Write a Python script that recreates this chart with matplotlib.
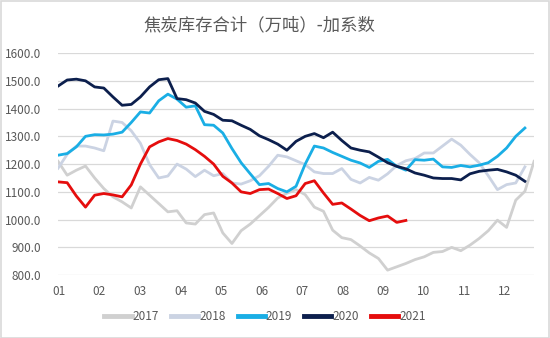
import numpy as np
import matplotlib
matplotlib.use('Agg')
import matplotlib.pyplot as plt
from matplotlib.patches import Rectangle

plt.rcParams['font.family'] = ['Noto Sans CJK SC', 'DejaVu Sans']

# 周度数据（第1周起）
y2017 = [1210, 1160, 1178, 1193, 1150, 1112, 1082, 1064, 1042, 1118, 1088, 1058, 1028, 1032,
         988, 984, 1018, 1024, 952, 914, 960, 984, 1014, 1044, 1078, 1095, 1108, 1090, 1045,
         1030, 962, 935, 928, 905, 880, 860, 818, 830, 842, 856, 866, 882, 885, 900, 888, 908,
         932, 960, 998, 972, 1070, 1102, 1210]
y2018 = [1185, 1235, 1265, 1265, 1258, 1248, 1355, 1350, 1320, 1275, 1198, 1150, 1157, 1200,
         1182, 1155, 1178, 1158, 1166, 1132, 1128, 1140, 1158, 1192, 1232, 1226, 1212, 1198,
         1172, 1166, 1166, 1184, 1145, 1132, 1152, 1142, 1165, 1195, 1212, 1220, 1240, 1240,
         1265, 1290, 1268, 1235, 1205, 1158, 1108, 1126, 1132, 1190]
y2019 = [1232, 1238, 1262, 1300, 1306, 1305, 1308, 1315, 1350, 1388, 1384, 1428, 1452, 1434,
         1405, 1410, 1342, 1340, 1312, 1256, 1205, 1165, 1126, 1130, 1112, 1100, 1120, 1200,
         1265, 1258, 1242, 1228, 1214, 1204, 1188, 1210, 1217, 1192, 1178, 1216, 1214, 1218,
         1190, 1188, 1195, 1190, 1196, 1205, 1228, 1258, 1300, 1330]
y2020 = [1481, 1503, 1506, 1500, 1478, 1474, 1442, 1412, 1415, 1442, 1478, 1504, 1508, 1436,
         1432, 1420, 1390, 1379, 1358, 1356, 1340, 1325, 1302, 1288, 1272, 1250, 1282, 1300,
         1310, 1295, 1315, 1285, 1258, 1250, 1244, 1225, 1205, 1192, 1183, 1168, 1160, 1150,
         1148, 1148, 1143, 1165, 1174, 1178, 1181, 1172, 1160, 1138]
y2021 = [1136, 1133, 1085, 1045, 1088, 1094, 1089, 1082, 1125, 1200, 1262, 1280, 1292, 1285,
         1272, 1252, 1228, 1200, 1156, 1132, 1100, 1094, 1108, 1110, 1094, 1076, 1086, 1130,
         1140, 1096, 1055, 1060, 1038, 1015, 996, 1006, 1013, 990, 997]

months = ['01', '02', '03', '04', '05', '06', '07', '08', '09', '10', '11', '12']

series = [('2017', y2017, '#d0d0d0'),
          ('2018', y2018, '#cbd3e3'),
          ('2019', y2019, '#1aaee5'),
          ('2020', y2020, '#0c1f4d'),
          ('2021', y2021, '#e50d0d')]

fig = plt.figure(figsize=(5.5, 3.38), dpi=100)
ax = fig.add_axes([0.1055, 0.186, 0.8655, 0.657])

for name, vals, color in series:
    ax.plot(np.arange(len(vals)), vals, color=color, lw=2.0, label=name,
            solid_joinstyle='round')

ax.set_xlim(0, 52)
ax.set_ylim(800, 1600)
ax.set_yticks(np.arange(800, 1601, 100))
ax.set_yticklabels([f'{v:.1f}' for v in np.arange(800, 1601, 100)])
ax.set_xticks(0.1 + np.arange(12) * 4.43)
ax.set_xticklabels(months)
ax.grid(axis='y', color='#d9d9d9', lw=0.9)
ax.set_axisbelow(True)
for s in ax.spines.values():
    s.set_visible(False)
ax.tick_params(length=0, labelsize=8.5, colors='#595959')
ax.tick_params(axis='y', pad=12)
ax.tick_params(axis='x', pad=7)

fig.text(0.471, 0.926, '焦炭库存合计（万吨）-加系数', ha='center', va='center',
         fontsize=12.5, color='#595959')

leg = ax.legend(loc='center', bbox_to_anchor=(265 / 550, 1 - 316.5 / 338),
                bbox_transform=fig.transFigure, ncol=5, frameon=False,
                fontsize=8.5, handlelength=2.3, columnspacing=1.0, handletextpad=0.1)
for t in leg.get_texts():
    t.set_color('#595959')
for h in leg.get_lines():
    h.set_linewidth(3.5)

fig.patches.append(Rectangle((0.001, 0.001), 0.997, 0.997, transform=fig.transFigure,
                             fill=False, edgecolor='#d9d9d9', lw=1.2))

fig.savefig('out.png', dpi=100)
